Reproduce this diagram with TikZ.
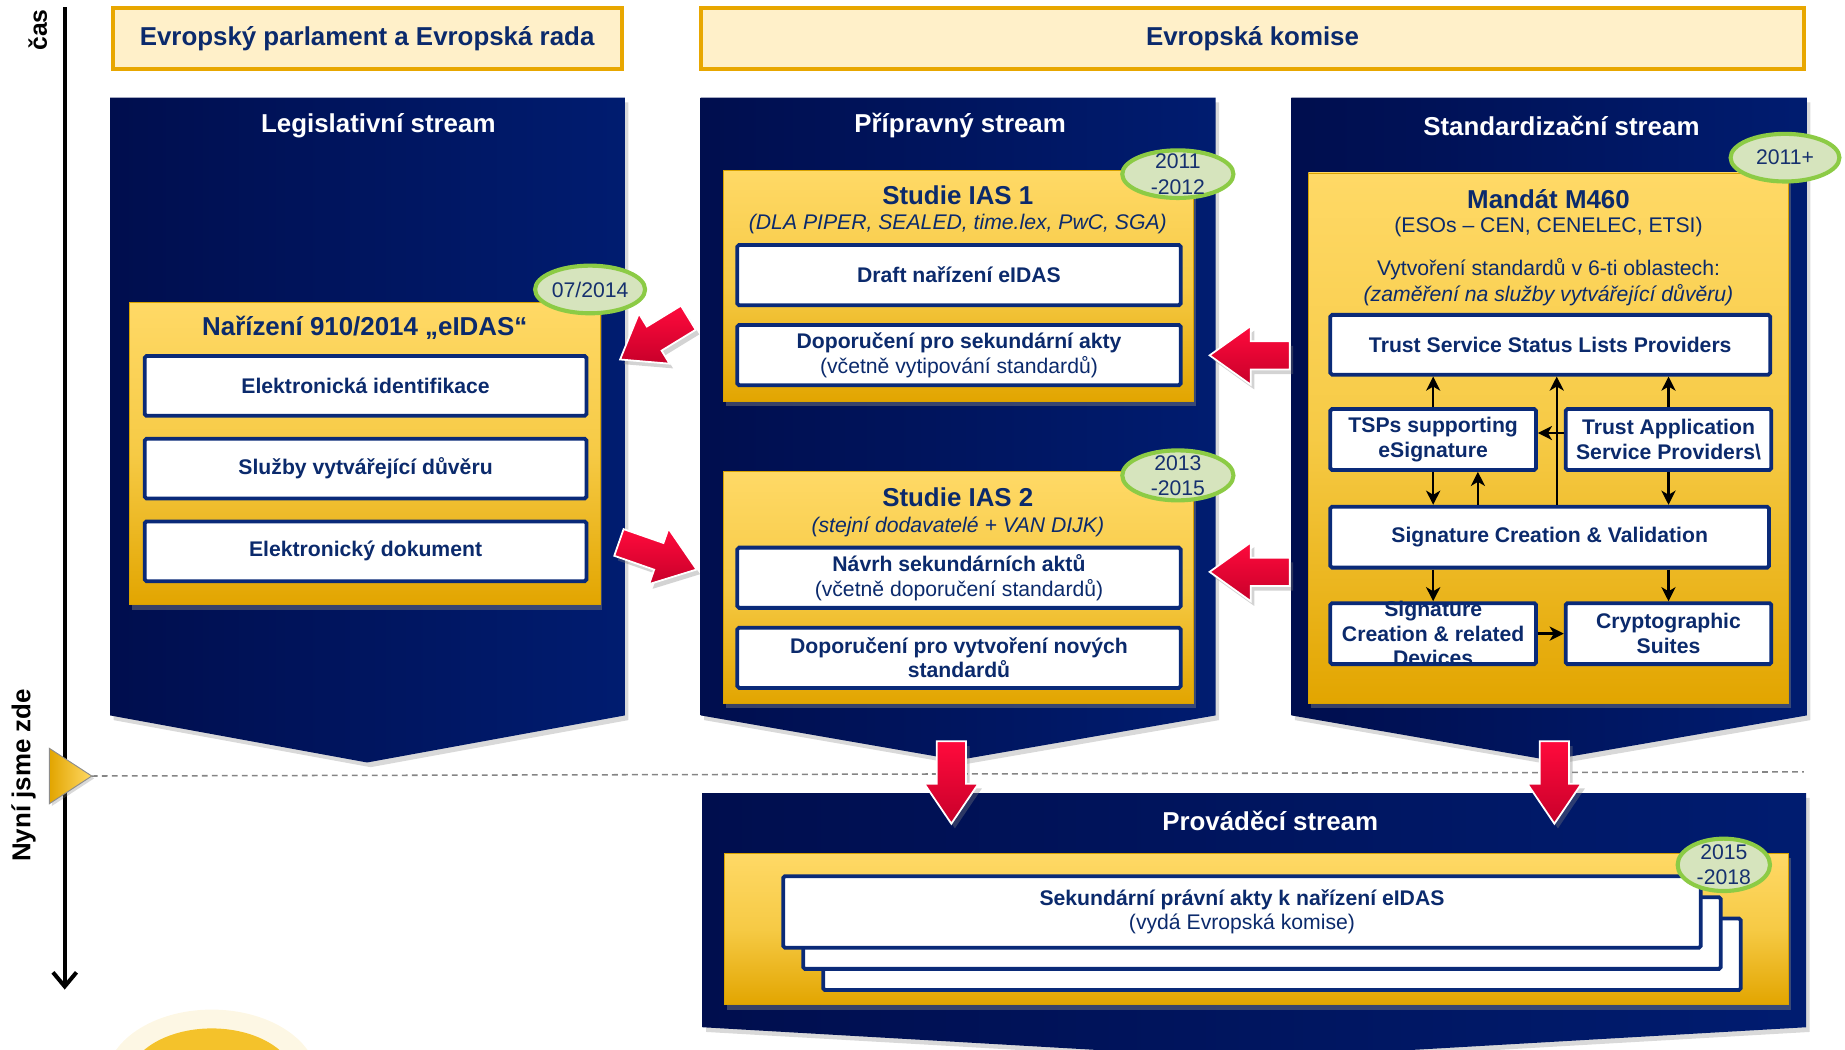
\documentclass[tikz,border=0pt]{standalone}
\usepackage{fontspec}
\setmainfont{Liberation Sans}
\usetikzlibrary{shadows,shapes.geometric,arrows.meta,calc}

\definecolor{navyA}{HTML}{000E4E}
\definecolor{navyB}{HTML}{001C70}
\definecolor{txtnavy}{HTML}{0B2A6C}
\definecolor{boxnavy}{HTML}{0A2A78}
\definecolor{yelTop}{HTML}{FFD966}
\definecolor{yelMid}{HTML}{F6CA45}
\definecolor{yelBot}{HTML}{E2A500}
\definecolor{yelEdge}{HTML}{D9A200}
\definecolor{hdrFill}{HTML}{FFF0C9}
\definecolor{hdrEdge}{HTML}{E8A700}
\definecolor{ellFill}{HTML}{D6E4BD}
\definecolor{ellEdge}{HTML}{8CCB45}
\definecolor{ellText}{HTML}{16306E}
\definecolor{redA}{HTML}{FF0A3C}
\definecolor{redB}{HTML}{C8002A}
\definecolor{domeY}{HTML}{F4C22B}

\tikzset{
  panel/.style={left color=navyA, right color=navyB, draw=none,
    drop shadow={opacity=0.3, shadow xshift=3pt, shadow yshift=-4pt}},
  ptitle/.style={text=white, font=\bfseries\fontsize{22}{26}\selectfont},
  hdr/.style={draw=hdrEdge, fill=hdrFill, line width=3.4pt, text=txtnavy,
    font=\bfseries\fontsize{22}{26}\selectfont, inner sep=0pt},
  ybox/.style={draw=yelEdge, line width=0.8pt, top color=yelTop, bottom color=yelBot,
    middle color=yelMid, inner sep=0pt,
    drop shadow={opacity=0.45, shadow xshift=2pt, shadow yshift=-4pt}},
  ytitle/.style={text=txtnavy, font=\bfseries\fontsize{22}{26}\selectfont},
  ytext/.style={text=txtnavy, font=\fontsize{18}{21}\selectfont, align=center},
  yital/.style={text=txtnavy, font=\itshape\fontsize{18}{21}\selectfont},
  wbox/.style={draw=boxnavy, fill=white, line width=3.2pt, rounded corners=1.5pt,
    text=txtnavy, font=\bfseries\fontsize{18}{21}\selectfont, align=center, inner sep=0pt},
  wtext/.style={text=txtnavy, font=\bfseries\fontsize{18}{21}\selectfont, align=center, inner sep=0pt},
  datebg/.style={ellipse, draw=ellEdge, fill=ellFill, line width=3.5pt, inner sep=0pt},
  datetxt/.style={text=ellText, font=\fontsize{18}{21.5}\selectfont, align=center, inner sep=0pt},
  redarrow/.style={draw=white, line width=1.5pt, top color=redA, bottom color=redB,
    line join=miter, drop shadow={opacity=0.35, shadow xshift=3pt, shadow yshift=-4pt}},
  flow/.style={draw=black, line width=2pt, -{Stealth[length=12pt,width=12pt,inset=3.5pt]}},
  axisline/.style={draw=black, line width=3.4pt, -{Straight Barb[length=12pt,width=20pt]}},
  nowline/.style={draw=black!48, line width=1.3pt, dash pattern=on 5pt off 3.5pt},
  vlabel/.style={rotate=90, text=black, font=\bfseries\fontsize{21}{25}\selectfont},
}

\newcommand\drawRedArrow[5]{%
  \path (#1) coordinate (rb-p) (#2) coordinate (rb-t);
  \path ($(rb-p)!#3!(rb-t)$) coordinate (rb-b);
  \path[redarrow] (rb-p) -- ($(rb-b)!#4!90:(rb-t)$) -- ($(rb-b)!#5!90:(rb-t)$)
    -- ($(rb-t)!#5!-90:(rb-b)$) -- ($(rb-t)!#5!90:(rb-b)$)
    -- ($(rb-b)!#5!-90:(rb-t)$) -- ($(rb-b)!#4!-90:(rb-t)$) -- cycle;
}

\begin{document}
\begin{tikzpicture}[x=1pt,y=-1pt]
\path[use as bounding box] (0,0) rectangle (1568,892);
\clip (0,0) rectangle (1568,892);

% dome at bottom left
\fill[domeY!25, opacity=0.5] (180,918) ellipse [x radius=90, y radius=60];
\fill[domeY] (180,920) ellipse [x radius=72, y radius=46];

% header boxes
\node[hdr, minimum width=432.6, minimum height=51.6] (hdrEP) at (312,32.5) {Evropský parlament a Evropská rada};
\node[hdr, minimum width=937.6, minimum height=51.6] (hdrEK) at (1064.5,32.5) {Evropská komise};

% stream panels
\path[panel] (93.5,83) -- (531,83) -- (531,608) -- (312,648) -- (93.5,608) -- cycle;
\path[panel] (595.5,83) -- (1033,83) -- (1033,608) -- (814,646) -- (595.5,608) -- cycle;
\path[panel] (1097.5,83) -- (1535.5,83) -- (1535.5,608) -- (1316.5,646) -- (1097.5,608) -- cycle;
\path[panel] (597,674) -- (1535,674) -- (1535,873) -- (1066,900) -- (597,873) -- cycle;

\node[ptitle] (tLeg) at (321.5,107) {Legislativní stream};
\node[ptitle] (tPrip) at (816,107) {Přípravný stream};
\node[ptitle] (tStd) at (1327,107) {Standardizační stream};
\node[ptitle] (tProv) at (1079.5,698) {Prováděcí stream};

% yellow boxes
\node[ybox, minimum width=400, minimum height=257] (narbox) at (310,385.5) {};
\node[ybox, minimum width=399, minimum height=196.5] (ias1box) at (814.5,242.75) {};
\node[ybox, minimum width=399, minimum height=197] (ias2box) at (814.5,499.5) {};
\node[ybox, minimum width=408, minimum height=451] (m460box) at (1316,372.5) {};
\node[ybox, minimum width=904, minimum height=129] (provbox) at (1068,789.5) {};

% texts in yellow boxes
\node[ytitle] (narT) at (310,279) {Nařízení 910/2014 „eIDAS“};
\node[ytitle] (ias1T) at (814,166) {Studie IAS 1};
\node[yital] (ias1S) at (814,190) {(DLA PIPER, SEALED, time.lex, PwC, SGA)};
\node[ytitle] (ias2T) at (814,423) {Studie IAS 2};
\node[yital] (ias2S) at (814,448) {(stejní dodavatelé + VAN DIJK)};
\node[ytitle] (m460T) at (1316,169) {Mandát M460};
\node[ytext] (m460S) at (1316,193) {(ESOs – CEN, CENELEC, ETSI)};
\node[ytext] (m460V) at (1316,229) {Vytvoření standardů v 6-ti oblastech:};
\node[yital] (m460Z) at (1316,251) {(zaměření na služby vytvářející důvěru)};

% white boxes: legislative
\node[wbox, minimum width=375.4, minimum height=50.8] (ei) at (310.7,328) {Elektronická identifikace};
\node[wbox, minimum width=375.4, minimum height=50.8] (sl) at (310.7,398.2) {Služby vytvářející důvěru};
\node[wbox, minimum width=375.4, minimum height=50.8] (ed) at (310.7,468.5) {Elektronický dokument};

% white boxes: IAS
\node[wbox, minimum width=376.8, minimum height=51.2] (draft) at (815,233.8) {Draft nařízení eIDAS};
\node[wbox, minimum width=376.8, minimum height=51.2] (dopsek) at (815,301.75) {Doporučení pro sekundární akty\\{\mdseries(včetně vytipování standardů)}};
\node[wbox, minimum width=376.8, minimum height=51.2] (navrh) at (815,491) {Návrh sekundárních aktů\\{\mdseries(včetně doporučení standardů)}};
\node[wbox, minimum width=376.8, minimum height=51.2] (dopnov) at (815,559) {Doporučení pro vytvoření nových\\standardů};

% white boxes: M460
\node[wbox, minimum width=373.8, minimum height=50.8] (tsslp) at (1317.5,293) {Trust Service Status Lists Providers};
\node[wbox, minimum width=174.8, minimum height=51.8] (tsps) at (1218,373.5) {TSPs supporting\\eSignature};
\node[wbox, minimum width=174.8, minimum height=51.8] (tas) at (1418,373.5) {Trust Application\\Service Providers\textbackslash};
\node[wbox, minimum width=372.8, minimum height=51.8] (scv) at (1317,456.5) {Signature Creation \& Validation};
\node[wbox, minimum width=174.8, minimum height=51.8] (scrd) at (1218,538.5) {};
\node[wtext] (scrdT) at (scrd) {Signature\\Creation \& related\\Devices};
\node[wbox, minimum width=174.8, minimum height=51.8] (cs) at (1418,538.5) {Cryptographic\\Suites};

% flow arrows in M460
\coordinate (vx) at (1323,0);
\coordinate (ux) at (1256,0);
\draw[flow] (tsps.north) -- (tsps.north |- tsslp.south);
\draw[flow] (vx |- scv.north) -- (vx |- tsslp.south);
\draw[flow] (tas.north) -- (tas.north |- tsslp.south);
\draw[flow] ($(tas.west)+(0,-5.5)$) -- ($(tsps.east)+(0,-5.5)$);
\draw[flow] (tsps.south) -- (tsps.south |- scv.north);
\draw[flow] (ux |- scv.north) -- (ux |- tsps.south);
\draw[flow] (tas.south) -- (tas.south |- scv.north);
\draw[flow] (tsps.south |- scv.south) -- (scrd.north);
\draw[flow] (tas.south |- scv.south) -- (cs.north);
\draw[flow] (scrd.east) -- (cs.west);

% stacked boxes in implementation stream
\node[wbox, minimum width=779.8, minimum height=60.8] (sek3) at (1089.5,811) {};
\node[wbox, minimum width=779.8, minimum height=60.8] (sek2) at (1072.5,793) {};
\node[wbox, minimum width=779.8, minimum height=60.8] (sek1) at (1055.5,775) {Sekundární právní akty k nařízení eIDAS\\{\mdseries(vydá Evropská komise)}};

% date ellipses
\node[datebg, minimum width=93.5, minimum height=40.5] (d1) at (501.5,246) {};
\node[datetxt] (d1t) at (d1) {07/2014};
\node[datebg, minimum width=94.5, minimum height=40.5] (d2) at (1001,148) {};
\node[datetxt] (d2t) at (d2) {2011\\-2012};
\node[datebg, minimum width=94.5, minimum height=42.5] (d3) at (1001,404) {};
\node[datetxt] (d3t) at (d3) {2013\\-2015};
\node[datebg, minimum width=92.5, minimum height=40.5] (d4) at (1517,134) {};
\node[datetxt] (d4t) at (d4) {2011+};
\node[datebg, minimum width=78.5, minimum height=44.5] (d5) at (1465,735) {};
\node[datetxt] (d5t) at (d5) {2015\\-2018};

% time axis
\coordinate (axtop) at (55,6);
\coordinate (axbot) at (55,841);
\draw[axisline] (axtop) -- (axbot);
\node[vlabel] (cas) at (32,25.5) {čas};
\node[vlabel, font=\bfseries\fontsize{22}{26}\selectfont] (nyni) at (20,659) {Nyní jsme zde};

% now marker and dashed line
\coordinate (nowtip) at (78,659.5);
\coordinate (nowend) at (1533,656);
\draw[nowline] (nowtip) -- (nowend);
\path[draw=black!45, line width=0.8pt, left color=yelBot, right color=yelTop,
  drop shadow={opacity=0.3, shadow xshift=2pt, shadow yshift=-2pt}]
  (42,636) -- (nowtip) -- (42,683) -- cycle;

% big red arrows
\coordinate (r1p) at (527,305.5); \coordinate (r1t) at (585,270);
\coordinate (r2p) at (592,484);   \coordinate (r2t) at (526,461);
\coordinate (r3p) at (1028,302);  \coordinate (r3t) at (1096,302);
\coordinate (r4p) at (1028,486);  \coordinate (r4t) at (1096,486);
\coordinate (r5p) at (808.5,700); \coordinate (r5t) at (808.5,630);
\coordinate (r6p) at (1321,700);  \coordinate (r6t) at (1321,630);
\drawRedArrow{r1p}{r1t}{34pt}{25pt}{12pt}
\drawRedArrow{r2p}{r2t}{34pt}{25pt}{12pt}
\drawRedArrow{r3p}{r3t}{35pt}{25pt}{12pt}
\drawRedArrow{r4p}{r4t}{35pt}{25pt}{12pt}
\drawRedArrow{r5p}{r5t}{34pt}{23pt}{12.5pt}
\drawRedArrow{r6p}{r6t}{34pt}{23pt}{12.5pt}
\end{tikzpicture}
\end{document}
